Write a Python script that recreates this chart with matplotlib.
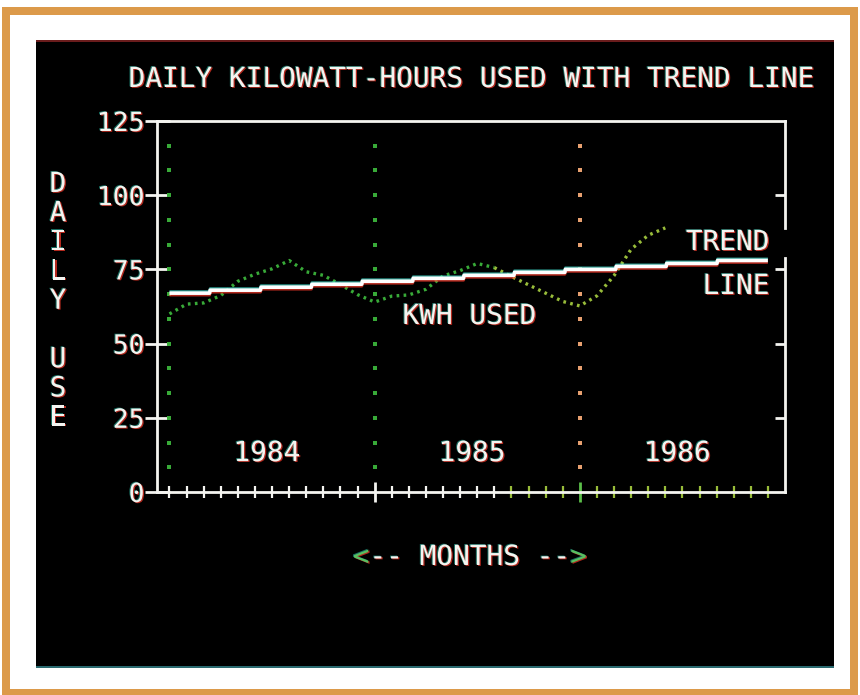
import numpy as np
import matplotlib
matplotlib.use("Agg")
import matplotlib.pyplot as plt
from matplotlib.patches import Rectangle
import matplotlib.patheffects as pe
from matplotlib.transforms import offset_copy

# Average daily kilowatt-hours, one value per month starting January 1984
months = np.arange(30)
kwh_used = [60.0, 63.3, 63.7, 66.2, 71.0, 73.4, 75.2, 78.0, 74.2, 73.0,
            69.9, 66.5, 64.0, 66.0, 66.4, 68.3, 72.8, 74.6, 77.0, 75.6,
            72.6, 69.8, 67.0, 64.2, 62.7, 66.1, 72.9, 81.8, 86.5, 89.0]

# Straight trend line (month, kWh) at its two ends
trend_months = [0, 35]
trend_kwh = [66.7, 78.5]

years = ["1984", "1985", "1986"]
year_start = [0, 12, 24]
y_ticks = [0, 25, 50, 75, 100, 125]
all_months = np.arange(36)

W, H = 860, 695
FONT = "DejaVu Sans Mono"
WHITE = "#f4f4f0"
GREEN = "#38aa38"
YGREEN = "#98bc3a"


def fx(px):
    return px / W


def fy(py):
    return 1 - py / H


def fringe():
    # colour fringing of a phosphor screen photographed through a lens
    return [pe.SimplePatchShadow(offset=(0.9, -0.6), shadow_rgbFace="#ff3a2a", alpha=0.7),
            pe.SimplePatchShadow(offset=(-0.7, 0.5), shadow_rgbFace="#30d8c0", alpha=0.5),
            pe.Normal()]


fig = plt.figure(figsize=(W / 100, H / 100), dpi=100, facecolor="white")


def frame_rect(x0, y0, x1, y1, color, z):
    fig.patches.append(Rectangle((fx(x0), fy(y1)), fx(x1) - fx(x0), fy(y0) - fy(y1),
                                 transform=fig.transFigure, facecolor=color,
                                 edgecolor="none", zorder=z))


# mount: orange border, white matte, black screen
frame_rect(2, 7, 858, 695, "#dc9a4a", -3)
frame_rect(10, 15, 850, 689, "white", -2.9)
frame_rect(36, 41, 834, 667, "black", -2.8)
frame_rect(36, 40, 834, 42, "#6a1c1c", -2.7)
frame_rect(36, 666, 834, 668, "#2a6a70", -2.7)

ax = fig.add_axes([fx(157), fy(492), fx(785) - fx(157), fy(121) - fy(492)])
ax.set_zorder(2)
ax.patch.set_visible(False)
x_lo, x_hi = -0.73, 36.0
ax.set_xlim(x_lo, x_hi)
ax.set_ylim(0, 125)

for side in ("left", "top", "bottom"):
    ax.spines[side].set_color(WHITE)
    ax.spines[side].set_linewidth(2.0)
ax.spines["right"].set_visible(False)
# right edge is interrupted next to the trend-line caption
for y0, y1 in ((0, 78.8), (88.9, 125)):
    ax.plot([x_hi, x_hi], [y0, y1], color=WHITE, lw=2.0, clip_on=False,
            solid_capstyle="projecting", zorder=5)

# y axis
ax.set_yticks(y_ticks)
ax.set_yticklabels([str(v) for v in y_ticks], family=FONT, fontsize=19, color=WHITE)
ax.tick_params(axis="y", direction="inout", length=18, width=2, color=WHITE, pad=0)
for lab in ax.get_yticklabels():
    lab.set_path_effects(fringe())

right = ax.secondary_yaxis("right")
right.spines["right"].set_visible(False)
right.set_yticks([25, 50, 75, 100])
right.tick_params(direction="in", length=7, width=2, color=WHITE, labelright=False)

# x axis: a tick every month, taller ticks at year boundaries
minor_months = [m for m in all_months if m not in year_start[1:]]
ax.set_xticks(year_start[1:])
ax.set_xticks(minor_months, minor=True)
ax.tick_params(axis="x", which="major", direction="inout", length=14, width=2,
               color=WHITE, labelbottom=False)
ax.tick_params(axis="x", which="minor", direction="inout", length=9, width=1.6,
               color=WHITE, labelbottom=False)
for tk, m in zip(ax.xaxis.get_minor_ticks(), minor_months):
    if m >= 20:
        tk.tick1line.set_markeredgecolor(YGREEN)
for tk, m in zip(ax.xaxis.get_major_ticks(), year_start[1:]):
    if m >= 20:
        tk.tick1line.set_markeredgecolor("#5cbf4a")

# dotted year separators
grid_levels = np.arange(1, 15) * 25 / 3
for m, c in zip(year_start, [GREEN, GREEN, "#e8a070"]):
    ax.plot(np.full(grid_levels.shape, m), grid_levels, ls="none", marker="s",
            ms=2.2, mew=0, color=c, zorder=2)

# monthly usage as a dotted curve
split = 19
ax.plot(months[:split + 1], kwh_used[:split + 1], color=GREEN, lw=2.4,
        ls=(0, (0.8, 1.3)), dash_capstyle="butt", zorder=3)
ax.plot(months[split:], kwh_used[split:], color=YGREEN, lw=2.4,
        ls=(0, (0.8, 1.3)), dash_capstyle="butt", zorder=3)

# trend line, rendered on whole screen rows as a staircase
tx = np.linspace(trend_months[0], trend_months[1], 1401)
ty = np.round(np.interp(tx, trend_months, trend_kwh))
for dy, col, lw in ((-1.3, "#ff3a2a", 2.2), (1.1, "#40e0d0", 2.0), (0, "white", 2.6)):
    tr = offset_copy(ax.transData, fig=fig, x=0, y=dy, units="points")
    ax.plot(tx, ty, color=col, lw=lw, transform=tr, solid_capstyle="butt",
            alpha=0.7 if dy else 1.0, zorder=4)

# captions inside the plot
txt = dict(family=FONT, color=WHITE, fontsize=20, path_effects=fringe(), zorder=6)
for y, label in zip(year_start, years):
    ax.text(y + 5.7, 13.1, label, ha="center", va="center", **txt)
ax.text(17.55, 59.3, "KWH USED", ha="center", va="center", **txt)
ax.text(35.1, 84.2, "TREND", ha="right", va="center", **txt)
ax.text(35.1, 69.4, "LINE", ha="right", va="center", **txt)

# titles
fig.text(fx(472), fy(79), "DAILY KILOWATT-HOURS USED WITH TREND LINE",
         ha="center", va="center", **txt)
for i, ch in enumerate("DAILY USE"):
    if ch != " ":
        fig.text(fx(58), fy(184 + 29.2 * i), ch, ha="center", va="center", **txt)
xl = dict(txt)
xl["color"] = "#58c060"
fig.text(fx(470), fy(557), "<            >", ha="center", va="center", **xl)
fig.text(fx(470), fy(557), " -- MONTHS -- ", ha="center", va="center", **txt)

fig.savefig("out.png", dpi=100, facecolor=fig.get_facecolor())
